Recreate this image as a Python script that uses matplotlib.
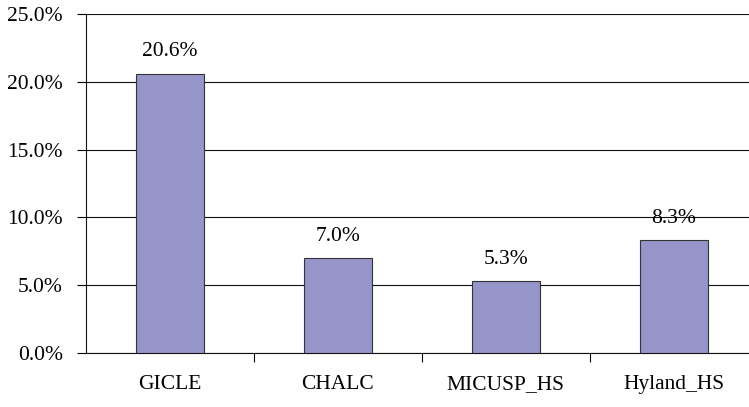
import matplotlib
matplotlib.use("Agg")
import matplotlib.pyplot as plt
import numpy as np
from matplotlib.ticker import FuncFormatter, FixedLocator

categories = ["GICLE", "CHALC", "MICUSP_HS", "Hyland_HS"]
values = [20.6, 7.0, 5.3, 8.3]
y_ticks = [0, 5, 10, 15, 20, 25]

plt.rcParams["font.family"] = ["Liberation Serif", "DejaVu Serif"]
plt.rcParams["font.size"] = 15.5

fig = plt.figure(figsize=(7.49, 4.07), dpi=100)
ax = fig.add_axes([0.1148, 0.1327, 0.8852, 0.8329])

x = np.arange(len(categories))
bars = ax.bar(x, values, width=0.4, color="#9595C9", edgecolor="#333333",
              linewidth=0.8, zorder=3)

for xi, v in zip(x, values):
    ax.annotate(f"{v:.1f}%", (xi, v), xytext=(0, 9), textcoords="offset points",
                ha="center", va="bottom", zorder=4)

ax.set_ylim(0, 25)
ax.set_xlim(-0.5, 3.447)
ax.set_yticks(y_ticks)
ax.yaxis.set_major_formatter(FuncFormatter(lambda v, p: f"{v:.1f}%"))
ax.yaxis.grid(True, color="#111111", linewidth=0.8, zorder=0)

ax.set_xticks(x)
ax.set_xticklabels(categories)
ax.xaxis.set_minor_locator(FixedLocator(np.arange(0.5, len(categories), 1.0)))
ax.tick_params(axis="x", which="major", length=0, pad=16)
ax.tick_params(axis="x", which="minor", length=6.5, width=0.8, direction="out")
ax.tick_params(axis="y", length=6.7, width=0.8, direction="out", pad=10)

for s in ["top", "right"]:
    ax.spines[s].set_visible(False)
for s in ["left", "bottom"]:
    ax.spines[s].set_linewidth(0.8)
    ax.spines[s].set_color("#111111")

fig.savefig("out.png", dpi=100)
